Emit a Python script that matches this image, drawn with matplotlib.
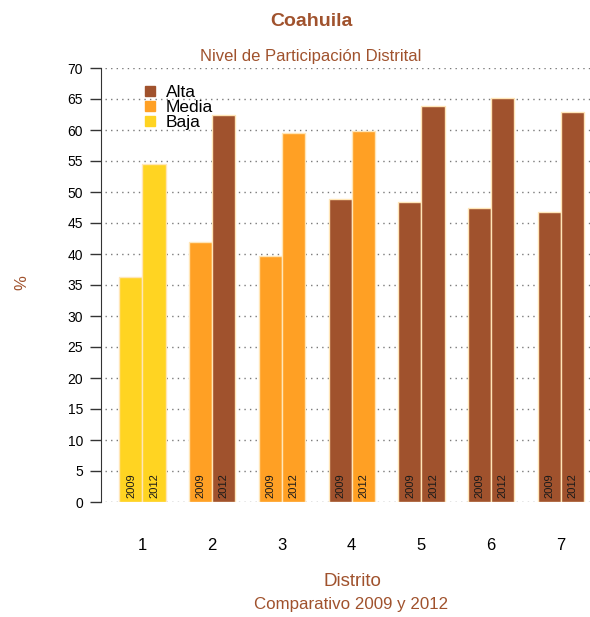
import matplotlib.pyplot as plt
from matplotlib.lines import Line2D
import numpy as np

plt.rcParams['font.family'] = ['Liberation Sans', 'DejaVu Sans']

# datos
distritos = [1, 2, 3, 4, 5, 6, 7]
part_2009 = [36.3, 41.9, 39.7, 48.8, 48.4, 47.5, 46.7]
part_2012 = [54.5, 62.5, 59.5, 59.9, 63.8, 65.2, 62.9]
nivel_2009 = ['Baja', 'Media', 'Media', 'Alta', 'Alta', 'Alta', 'Alta']
nivel_2012 = ['Baja', 'Alta', 'Media', 'Media', 'Alta', 'Alta', 'Alta']
niveles = ['Alta', 'Media', 'Baja']
yticks = list(range(0, 75, 5))

colores = {'Alta': '#A0522D', 'Media': '#FFA024', 'Baja': '#FFD422'}
cafe = '#A0522D'
borde = '#FFE6B8'

fig = plt.figure(figsize=(5.9, 6.17), dpi=100)
ax = fig.add_axes([101 / 590, 115 / 617, 489 / 590, 434 / 617])

x = np.array(distritos)
w = 0.33

# lineas punteadas de fondo
ax.hlines(yticks, 0.46, 7.42, colors='#7a7a7a', linestyles=(0, (1, 3)), lw=1.0, zorder=0)

ax.bar(x - w / 2, part_2009, width=w, color=[colores[n] for n in nivel_2009],
       edgecolor=borde, lw=1, zorder=2)
ax.bar(x + w / 2, part_2012, width=w, color=[colores[n] for n in nivel_2012],
       edgecolor=borde, lw=1, zorder=2)

for xi in x:
    ax.text(xi - w / 2, 0.6, '2009', rotation=90, ha='center', va='bottom', fontsize=8, color='#1a1a1a', zorder=3)
    ax.text(xi + w / 2, 0.6, '2012', rotation=90, ha='center', va='bottom', fontsize=8, color='#1a1a1a', zorder=3)

ax.set_xlim(0.405, 7.416)
ax.set_ylim(0, 70)
ax.set_yticks(yticks)
ax.set_xticks(distritos)
ax.tick_params(axis='y', length=8, width=1, pad=5, labelsize=10, color='#333333')
ax.tick_params(axis='x', length=0, pad=26, labelsize=12)
for s in ['top', 'right', 'bottom']:
    ax.spines[s].set_visible(False)
ax.spines['left'].set_color('#333333')

handles = [Line2D([], [], marker='s', ls='', color=colores[n], markersize=7) for n in niveles]
ax.legend(handles, niveles, loc='upper left', bbox_to_anchor=(0.065, 0.985), frameon=False,
          fontsize=12.5, handlelength=0.8, handletextpad=0.5, labelspacing=0.0, borderaxespad=0.2)

fig.text(311 / 590, 1 - 21 / 617, 'Coahuila', ha='center', va='center', fontsize=14, fontweight='bold', color=cafe)
fig.text(311 / 590, 1 - 57 / 617, 'Nivel de Participación Distrital', ha='center', va='center', fontsize=12, color=cafe)
fig.text(352 / 590, 1 - 581 / 617, 'Distrito', ha='center', va='center', fontsize=13.5, color=cafe)
fig.text(351 / 590, 1 - 605 / 617, 'Comparativo 2009 y 2012', ha='center', va='center', fontsize=12.2, color=cafe)
fig.text(22 / 590, 1 - 283 / 617, '%', ha='center', va='center', rotation=90, fontsize=12, color=cafe)

fig.savefig('out.png', dpi=100)
